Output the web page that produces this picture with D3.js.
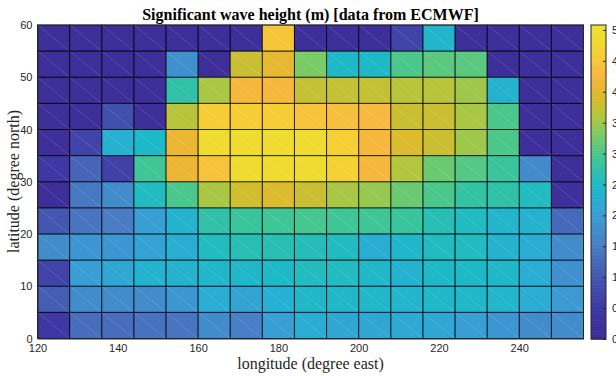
<!DOCTYPE html>
<html><head><meta charset="utf-8">
<script src="https://cdn.jsdelivr.net/npm/d3@7"></script>
<style>body{margin:0;background:#fff}svg{display:block}</style>
</head><body>
<svg id="c" width="616" height="376"></svg>
<script>
// longitude cell starts (degree east), 8-degree cells
const lons = [120,128,136,144,152,160,168,176,184,192,200,208,216,224,232,240,248];
// latitude cell starts (degree north), 5-degree cells, top to bottom
const lats = [55,50,45,40,35,30,25,20,15,10,5,0];
// significant wave height (m), rows top (55-60N) to bottom (0-5N)
const row55 = [0.1,0.1,0.1,0.1,0.1,0.1,0.1,4.5,0.1,0.1,0.1,0.7,2.4,0.1,0.1,0.1,0.1];
const row50 = [0.1,0.1,0.1,0.1,1.8,0.1,3.8,4.05,3.3,2.5,2.5,3.0,3.1,3.1,0.1,0.1,0.1];
const row45 = [0.1,0.1,0.1,0.1,2.75,3.55,4.25,4.25,3.75,3.75,3.75,3.65,3.65,3.5,2.35,0.1,0.1];
const row40 = [0.1,0.1,0.9,0.1,3.65,4.6,4.6,4.6,4.45,4.4,4.3,3.8,3.8,3.55,3.0,0.1,0.1];
const row35 = [0.1,0.7,2.3,2.5,4.1,4.9,4.9,4.9,4.9,4.65,4.25,3.95,3.8,3.5,3.0,0.1,0.1];
const row30 = [0.5,1.2,0.65,2.9,4.1,4.45,4.9,4.9,4.9,4.7,4.25,3.6,3.2,3.05,2.85,1.7,0.1];
const row25 = [0.1,1.45,1.75,2.55,3.0,3.55,3.85,3.95,3.8,3.55,3.45,3.2,3.0,2.8,2.75,2.55,0.15];
const row20 = [1.0,1.4,1.5,2.05,2.35,2.75,2.85,2.9,2.95,2.9,2.9,2.85,2.65,2.55,2.4,2.35,1.25];
const row15 = [1.75,1.9,1.9,2.1,2.25,2.55,2.65,2.65,2.6,2.55,2.25,2.45,2.55,2.55,2.35,2.25,1.75];
const row10 = [0.7,2.05,2.15,2.35,2.35,2.45,2.45,2.5,2.55,2.55,2.45,2.35,2.5,2.5,2.45,2.25,1.8];
const row5  = [1.1,1.75,1.75,1.75,1.9,2.25,2.1,2.3,2.45,2.45,2.45,2.4,2.45,2.45,2.4,2.25,1.95];
const row0  = [0.5,1.3,1.3,1.35,1.4,1.75,1.55,2.05,2.25,2.15,2.15,2.2,2.15,2.05,1.9,1.75,1.75];
const values = [row55,row50,row45,row40,row35,row30,row25,row20,row15,row10,row5,row0];
const xTicks = [120,140,160,180,200,220,240];
const yTicks = [0,10,20,30,40,50,60];
const cbTicks = [0,0.5,1,1.5,2,2.5,3,3.5,4,4.5,5];
const cbMax = 5.08;
// colormap stops (parula-like, as rendered)
const cmapV = [0,0.5,1.0,1.5,2.0,2.3,2.5,2.8,3.0,3.3,3.6,3.9,4.1,4.3,4.6,5.08];
const cmapC = ["#3e2c98","#3f37a2","#4356b0","#4a7cc4","#3a9cd4","#26b0d2","#1eb9c6","#34c3a2","#4cc78c","#7aca66","#b2c63e","#d6bc2c","#ecb634","#f8b940","#f6cd34","#ece42e"];

const svg = d3.select("#c");
const x = d3.scaleLinear().domain([120,256]).range([37.5,583.5]);
const y = d3.scaleLinear().domain([0,60]).range([338.5,25]);
const color = d3.scaleLinear().domain(cmapV).range(cmapC).interpolate(d3.interpolateRgb).clamp(true);

const cells = [];
values.forEach((row,i)=>row.forEach((v,j)=>cells.push({lon:lons[j],lat:lats[i],v})));

const g = svg.append("g");
g.selectAll("rect.cell").data(cells).join("rect")
  .attr("x",d=>x(d.lon)).attr("y",d=>y(d.lat+5))
  .attr("width",d=>x(d.lon+8)-x(d.lon)).attr("height",d=>y(d.lat)-y(d.lat+5))
  .attr("fill",d=>color(d.v)).attr("shape-rendering","crispEdges");
// faint diagonal seams
g.selectAll("line.diag").data(cells).join("line")
  .attr("x1",d=>x(d.lon)).attr("y1",d=>y(d.lat+5))
  .attr("x2",d=>x(d.lon+8)).attr("y2",d=>y(d.lat))
  .attr("stroke","#fff").attr("stroke-opacity",0.18).attr("stroke-width",0.8);
// cell edges
g.selectAll("rect.edge").data(cells).join("rect")
  .attr("x",d=>x(d.lon)).attr("y",d=>y(d.lat+5))
  .attr("width",d=>x(d.lon+8)-x(d.lon)).attr("height",d=>y(d.lat)-y(d.lat+5))
  .attr("fill","none").attr("stroke","#000").attr("stroke-opacity",0.55).attr("stroke-width",1);

// axes
const xa = svg.append("g").attr("transform","translate(0,338.5)")
  .call(d3.axisBottom(x).tickValues(xTicks).tickSize(0).tickPadding(6));
const ya = svg.append("g").attr("transform","translate(37.5,0)")
  .call(d3.axisLeft(y).tickValues(yTicks).tickSize(0).tickPadding(5));
[xa,ya].forEach(a=>{
  a.select(".domain").attr("stroke","#262626");
  a.selectAll("text").attr("font-family","'Liberation Sans',Arial,sans-serif").attr("font-size",11).attr("fill","#262626");
});
svg.append("rect").attr("x",37.5).attr("y",25).attr("width",546).attr("height",313.5)
  .attr("fill","none").attr("stroke","#262626").attr("stroke-width",1);

// labels
svg.append("text").attr("x",310.5).attr("y",20).attr("text-anchor","middle")
  .attr("font-family","'Liberation Serif','Times New Roman',serif").attr("font-weight","bold")
  .attr("font-size",16).attr("fill","#000").text("Significant wave height (m) [data from ECMWF]");
svg.append("text").attr("x",310.5).attr("y",369).attr("text-anchor","middle")
  .attr("font-family","'Liberation Serif','Times New Roman',serif")
  .attr("font-size",16).attr("fill","#262626").text("longitude (degree east)");
svg.append("text").attr("transform","translate(19,181.5) rotate(-90)").attr("text-anchor","middle")
  .attr("font-family","'Liberation Serif','Times New Roman',serif")
  .attr("font-size",16).attr("fill","#262626").text("latitude (degree north)");

// colorbar
const cb = d3.scaleLinear().domain([0,cbMax]).range([339,25]);
const cbX = 591, cbW = 15;
const steps = d3.range(0,cbMax,cbMax/200);
svg.append("g").selectAll("rect").data(steps).join("rect")
  .attr("x",cbX).attr("width",cbW)
  .attr("y",d=>cb(Math.min(d+cbMax/200,cbMax))).attr("height",d=>cb(d)-cb(Math.min(d+cbMax/200,cbMax))+0.6)
  .attr("fill",d=>color(d+cbMax/400));
const ca = svg.append("g").attr("transform",`translate(${cbX+cbW},0)`)
  .call(d3.axisRight(cb).tickValues(cbTicks).tickSize(-3).tickPadding(6));
ca.select(".domain").remove();
ca.selectAll("line").attr("stroke","#262626");
ca.selectAll("text").attr("font-family","'Liberation Sans',Arial,sans-serif").attr("font-size",11).attr("fill","#262626");
svg.append("rect").attr("x",cbX).attr("y",25).attr("width",cbW).attr("height",314)
  .attr("fill","none").attr("stroke","#262626").attr("stroke-width",1);
</script>
</body></html>
